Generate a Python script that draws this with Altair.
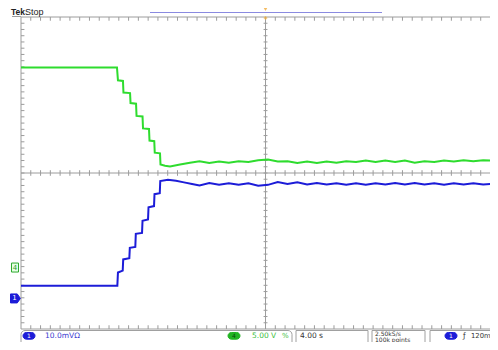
import altair as alt
import pandas as pd

# ---------------- values read from the screen ----------------
# horizontal: seconds (4.00 s/div, trigger at centre); vertical: screen divisions
steady_time = [-5.4, -4.6, -3.8, -3.0, -2.2, -1.4, -0.6, 0.2, 1.0, 1.8, 2.6, 3.4, 4.2, 5.0,
               5.8, 6.6, 7.4, 8.2, 9.0, 9.8, 10.6, 11.4, 12.2, 13.0, 13.8, 14.6, 15.4, 16.2,
               17.0, 17.8, 18.6, 19.4]

ch4_time = [-20.0, -12.15, -12.07, -11.66, -11.62, -11.08, -11.04, -10.59, -10.55, -10.06,
            -10.02, -9.53, -9.49, -9.10, -9.06, -8.63, -8.59, -8.22, -7.81, -6.99, -6.18] + steady_time
ch4_div = [3.38, 3.38, 2.97, 2.95, 2.58, 2.56, 2.24, 2.22, 1.83, 1.81, 1.43, 1.41, 1.04, 1.02,
           0.65, 0.63, 0.27, 0.23, 0.21, 0.27, 0.33,
           0.38, 0.32, 0.37, 0.33, 0.38, 0.35, 0.41, 0.43, 0.37, 0.38, 0.32, 0.37, 0.32, 0.37,
           0.33, 0.38, 0.35, 0.40, 0.35, 0.40, 0.35, 0.40, 0.33, 0.38, 0.35, 0.40, 0.37, 0.41,
           0.38, 0.41, 0.40, 0.41]

ch1_time = [-20.0, -12.12, -12.07, -11.68, -11.64, -11.14, -11.10, -10.65, -10.61, -10.10,
            -10.06, -9.61, -9.57, -9.12, -9.08, -8.65, -8.61, -7.98, -7.32, -6.67, -6.01] + steady_time
ch1_div = [-3.61, -3.61, -3.19, -3.13, -2.77, -2.73, -2.40, -2.37, -1.95, -1.92, -1.53, -1.49,
           -1.10, -1.06, -0.68, -0.65, -0.26, -0.22, -0.25, -0.30, -0.35,
           -0.40, -0.32, -0.38, -0.33, -0.38, -0.33, -0.41, -0.38, -0.29, -0.35, -0.30, -0.37,
           -0.32, -0.37, -0.33, -0.38, -0.33, -0.38, -0.33, -0.37, -0.32, -0.37, -0.32, -0.37,
           -0.33, -0.38, -0.33, -0.37, -0.33, -0.37, -0.35, -0.35]

# ground reference markers (divisions)
ch4_ground = -3.03
ch1_ground = -4.02

# graticule
major_t = [-16, -12, -8, -4, 4, 8, 12, 16]
major_v = [-4, -3, -2, -1, 1, 2, 3, 4]
minor_t = [round(-19.2 + 0.8 * i, 2) for i in range(48)]
minor_v = [round(-4.8 + 0.2 * i, 2) for i in range(49)]

# screen texts
title_bold = "Tek"
title_rest = "Stop"
ch1_scale = "10.0mVΩ"
ch4_scale = "5.00 V"
ch4_bw = "%"
timebase = "4.00 s"
rate = "2.50kS/s"
points = "100k points"
trig_slope = "ƒ"
trig_level = "120m"

T_END = 18.36
W, H = 469, 312
LEFT, TOP = 21, 17           # page position of the graticule
xs = alt.Scale(domain=[-20, T_END], nice=False, zero=False)
ys = alt.Scale(domain=[-5, 5], nice=False, zero=False)

GRID = "#9c9c9c"
GREEN = "#2edc2e"
BLUE = "#1c1cd8"
FONT = "DejaVu Sans"
TFONT = "Liberation Sans"

one = pd.DataFrame({"k": [0]})


def px(X):
    return X - LEFT


def py(Y):
    return Y - TOP


def text(X, Y, s, color, size=8, weight="normal", align="left", font=FONT):
    return alt.Chart(one).mark_text(
        text=s, color=color, fontSize=size, fontWeight=weight, align=align,
        baseline="middle", font=font, clip=False
    ).encode(x=alt.value(px(X)), y=alt.value(py(Y)))


def box(X1, X2, Y1, Y2, fill, stroke, r=0, sw=1.0):
    return alt.Chart(one).mark_rect(
        fill=fill, stroke=stroke, strokeWidth=sw, cornerRadius=r, clip=False
    ).encode(x=alt.value(px(X1)), x2=alt.value(px(X2)),
             y=alt.value(py(Y1)), y2=alt.value(py(Y2)))


def hline(X1, X2, Y, color, sw=1.0):
    return alt.Chart(one).mark_rule(color=color, strokeWidth=sw, clip=False).encode(
        x=alt.value(px(X1)), x2=alt.value(px(X2)), y=alt.value(py(Y)))


# ---- dotted division grid (via axes) ----
grid_df = pd.DataFrame({"t": [0.0], "v": [0.0]})
grid = alt.Chart(grid_df).mark_point(opacity=0).encode(
    x=alt.X("t:Q", scale=xs, axis=alt.Axis(values=major_t, grid=True, gridDash=[1, 5.24],
                                           gridColor="#b0b0b0", labels=False, ticks=False,
                                           domain=False, title=None)),
    y=alt.Y("v:Q", scale=ys, axis=alt.Axis(values=major_v, grid=True, gridDash=[1, 8.8],
                                           gridColor="#b0b0b0", labels=False, ticks=False,
                                           domain=False, title=None)),
)

# ---- frame and centre lines ----
hl = pd.DataFrame({"t": [-20.0] * 3, "t2": [T_END] * 3, "v": [5.0, -5.0, 0.0]})
hlines = alt.Chart(hl).mark_rule(color=GRID, strokeWidth=1).encode(
    x=alt.X("t:Q", scale=xs, axis=None), x2="t2:Q", y=alt.Y("v:Q", scale=ys, axis=None))
vl = pd.DataFrame({"t": [-20.0, 0.0], "v": [-5.0, -5.0], "v2": [5.0, 5.0]})
vlines = alt.Chart(vl).mark_rule(color=GRID, strokeWidth=1).encode(
    x=alt.X("t:Q", scale=xs, axis=None), y=alt.Y("v:Q", scale=ys, axis=None), y2="v2:Q")

# ---- minor ticks ----
tick_rows = []
for t in minor_t:
    tick_rows.append({"t": t, "t2": t, "v": 5.0, "v2": 4.88})
    tick_rows.append({"t": t, "t2": t, "v": -5.0, "v2": -4.88})
    tick_rows.append({"t": t, "t2": t, "v": -0.09, "v2": 0.09})
for v in minor_v:
    tick_rows.append({"t": -20.0, "t2": -19.72, "v": v, "v2": v})
    tick_rows.append({"t": -0.16, "t2": 0.16, "v": v, "v2": v})
ticks = alt.Chart(pd.DataFrame(tick_rows)).mark_rule(color=GRID, strokeWidth=1).encode(
    x=alt.X("t:Q", scale=xs, axis=None), x2="t2:Q",
    y=alt.Y("v:Q", scale=ys, axis=None), y2="v2:Q")

# ---- traces ----
df4 = pd.DataFrame({"t": ch4_time, "v": ch4_div, "i": range(len(ch4_time))})
df1 = pd.DataFrame({"t": ch1_time, "v": ch1_div, "i": range(len(ch1_time))})
tr4 = alt.Chart(df4).mark_line(color=GREEN, strokeWidth=2, clip=True).encode(
    x=alt.X("t:Q", scale=xs, axis=None), y=alt.Y("v:Q", scale=ys, axis=None), order="i:Q")
tr1 = alt.Chart(df1).mark_line(color=BLUE, strokeWidth=2, clip=True).encode(
    x=alt.X("t:Q", scale=xs, axis=None), y=alt.Y("v:Q", scale=ys, axis=None), order="i:Q")

# ---- ground markers on the left edge ----
gm = pd.DataFrame({"v": [ch4_ground], "lab": ["4"]})
gm1 = pd.DataFrame({"v": [ch1_ground], "lab": ["1"]})
g4_box = alt.Chart(gm).mark_point(shape="M-0.78,-1H0.78V1H-0.78Z", size=81, filled=True,
                                  fill="#e6ffe6", stroke="#2eaa2e", strokeWidth=1, opacity=1,
                                  clip=False).encode(
    x=alt.value(px(15)), y=alt.Y("v:Q", scale=ys, axis=None))
g4_txt = alt.Chart(gm).mark_text(color="#2a9a2a", fontSize=7, font=FONT, baseline="middle",
                                 align="center", clip=False).encode(
    x=alt.value(px(15)), y=alt.Y("v:Q", scale=ys, axis=None), text="lab:N")
g1_box = alt.Chart(gm1).mark_point(shape="M-1,-1H0.5L1.2,0L0.5,1H-1Z", size=81,
                                   filled=True, fill=BLUE, stroke=BLUE, strokeWidth=1,
                                   opacity=1, clip=False).encode(
    x=alt.value(px(15)), y=alt.Y("v:Q", scale=ys, axis=None))
g1_txt = alt.Chart(gm1).mark_text(color="white", fontSize=7, font=FONT, baseline="middle",
                                  align="center", clip=False).encode(
    x=alt.value(px(14.5)), y=alt.Y("v:Q", scale=ys, axis=None), text="lab:N")

# ---- screen decorations ----
SY = 335.8   # status-bar text line
deco = [
    hline(12, 21, 16.5, GRID),
    text(11, 11.5, title_bold, "#222222", size=8.5, weight="bold", font=TFONT),
    text(25, 11.5, title_rest, "#222222", size=9, font=TFONT),
    hline(150, 382, 12.5, "#8a8ae0", sw=1.2),
    alt.Chart(one).mark_point(shape="triangle-down", filled=True, color="#f0a020", size=22,
                              clip=False).encode(x=alt.value(px(265.5)), y=alt.value(py(9))),
    alt.Chart(one).mark_point(shape="diamond", filled=True, color="#f0b040", size=18,
                              clip=False).encode(x=alt.value(px(265.5)), y=alt.value(py(18))),
    # status bar
    box(21, 292, 330.5, 358, "white", "#a0a0a0", r=4),
    box(23, 35, 332.5, 339.2, BLUE, BLUE, r=3.5),
    text(29, SY, "1", "white", size=6, align="center"),
    text(45, SY, ch1_scale, "#3a3ad0", size=7.5),
    box(228, 240, 332.5, 339.2, "#22b422", "#22b422", r=3.5),
    text(234, SY, "4", "#0a4a0a", size=6, align="center"),
    text(252, SY, ch4_scale, "#3cc03c", size=7.5),
    text(282, SY, ch4_bw, "#3cc03c", size=7),
    box(296, 368, 330.5, 358, "white", "#a0a0a0", r=0),
    text(300, SY, timebase, "#333333", size=7.5),
    box(372, 425, 330.5, 358, "white", "#a0a0a0", r=0),
    text(375, 333.9, rate, "#333333", size=6),
    text(375, 340.0, points, "#333333", size=6),
    box(430, 520, 330.5, 358, "white", "#a0a0a0", r=0),
    box(445, 457, 332.5, 339.2, BLUE, BLUE, r=3.5),
    text(451, SY, "1", "white", size=6, align="center"),
    text(463, SY, trig_slope, "#333333", size=7.5),
    text(471, SY, trig_level, "#333333", size=6.8),
]

chart = alt.layer(grid, hlines, vlines, ticks, tr4, tr1,
                  g4_box, g4_txt, g1_box, g1_txt, *deco).properties(
    width=W, height=H,
    background="white",
    padding={"left": 13, "top": 9, "right": 0, "bottom": 13},
    autosize=alt.AutoSizeParams(type="none"),
).configure_view(strokeWidth=0)

chart.save("out.html", embed_options={"renderer": "svg", "actions": False})
